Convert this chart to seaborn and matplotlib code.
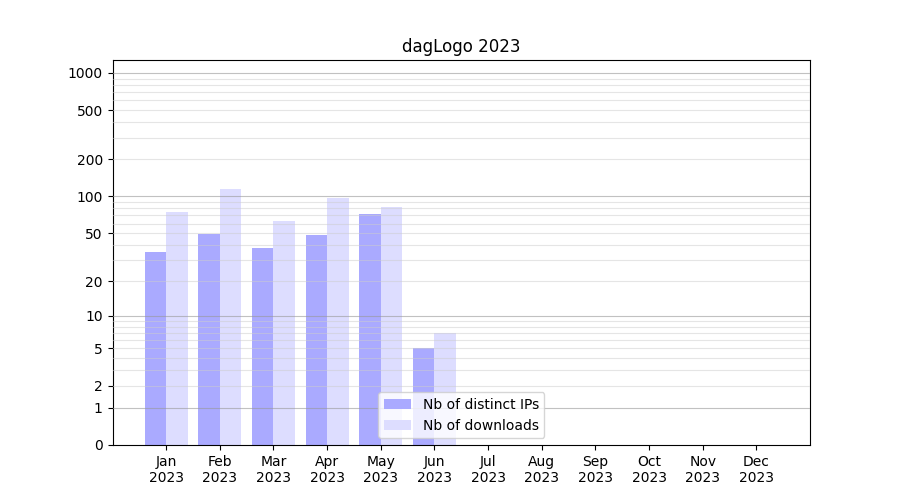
import numpy as np
import pandas as pd
import matplotlib
matplotlib.use("Agg")
import matplotlib.pyplot as plt
import seaborn as sns

# Datos
meses = ["Jan", "Feb", "Mar", "Apr", "May", "Jun", "Jul", "Aug", "Sep", "Oct", "Nov", "Dec"]
anio = "2023"
ips = [35, 49, 38, 48, 72, 5, 0, 0, 0, 0, 0, 0]
descargas = [75, 115, 63, 97, 82, 7, 0, 0, 0, 0, 0, 0]
series = ["Nb of distinct IPs", "Nb of downloads"]
yticks = [0, 1, 2, 5, 10, 20, 50, 100, 200, 500, 1000]

df = pd.DataFrame({
    "mes": meses * 2,
    "valor": ips + descargas,
    "serie": [series[0]] * len(meses) + [series[1]] * len(meses),
})

fig, ax = plt.subplots(figsize=(9, 5), dpi=100)
sns.barplot(data=df, x="mes", y="valor", hue="serie", palette=["#aaaaff", "#ddddff"],
            saturation=1, width=0.8, linewidth=0, edgecolor="none", ax=ax)

ax.set_yscale("function", functions=(lambda v: np.log10(1 + np.maximum(v, 0)),
                                     lambda v: 10 ** v - 1))
ax.set_ylim(0, 1270)
ax.set_xlim(-1, 12)
ax.set_yticks(yticks)
ax.set_yticklabels([str(t) for t in yticks])
ax.minorticks_off()

# Lineas de la cuadricula (mayores en las decadas, menores en el resto)
for dec in [1, 10, 100]:
    for k in range(2, 10):
        ax.axhline(dec * k, color="#cccccc", lw=0.8, alpha=0.5, zorder=3)
for dec in [1, 10, 100, 1000]:
    ax.axhline(dec, color="#999999", lw=0.8, alpha=0.6, zorder=3)

ax.set_xticks(range(len(meses)))
ax.set_xticklabels([f"{m}\n{anio}" for m in meses])
ax.set_xlabel("")
ax.set_ylabel("")
ax.set_title("dagLogo 2023")
ax.legend(loc="lower center")

fig.savefig("out.png")
